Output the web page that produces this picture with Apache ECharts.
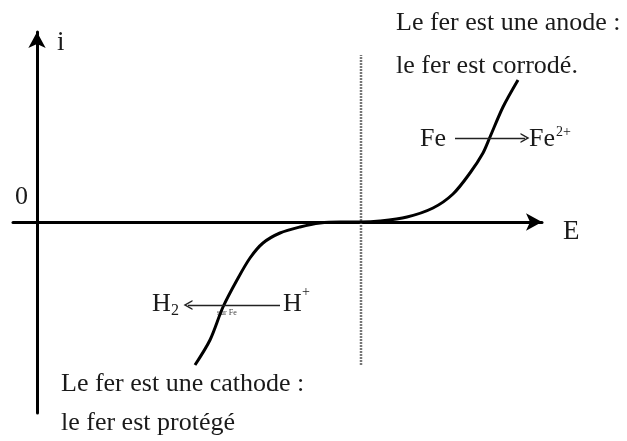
<!DOCTYPE html>
<html>
<head>
<meta charset="utf-8">
<script src="https://cdn.jsdelivr.net/npm/echarts@6/dist/echarts.min.js"></script>
<style>
  html, body { margin: 0; padding: 0; background: #fff; }
  #courbe { width: 627px; height: 441px; }
</style>
</head>
<body>
<div id="courbe"></div>
<script>
var potentiel = [158, 173, 186, 200, 213, 226, 243, 263, 283, 303, 324, 343, 370, 396, 416, 433, 446, 453, 466, 481];
var courant = [-143, -118, -85, -58, -36, -21, -11, -5, -1, 0, 0, 1, 5, 14, 28, 49, 69, 85, 115, 142];

// potentiel de corrosion (pointilles)
var Ecorr = 324;
var pointilles = [-143, 167];

// fleches des reactions
var flecheFe = [[418, 84], [488, 84]];
var flecheH = [[243, -83], [151, -83]];

var police = 'Liberation Serif';
var encre = '#1a1a1a';

var points = [];
for (var k = 0; k < potentiel.length; k++) {
    points.push([potentiel[k], courant[k]]);
}

// pointe ouverte, comme une fleche dessinee au trait
var chevron = 'path://M0,10 L5,0 L10,10 L8.4,10 L5,3.2 L1.6,10 Z';

var myChart = echarts.init(document.getElementById('courbe'));
var option = {
    backgroundColor: '#fff',
    animation: false,
    grid: {left: 13, right: 85, top: 32, bottom: 28},
    xAxis: {
        type: 'value',
        min: -24,
        max: 505,
        name: 'E',
        nameLocation: 'end',
        nameGap: 21,
        nameTextStyle: {fontFamily: police, fontSize: 27, color: encre, verticalAlign: 'top', lineHeight: 20},
        axisLine: {
            onZero: true,
            symbol: ['none', 'arrow'],
            symbolSize: [13, 16],
            lineStyle: {color: '#000', width: 3}
        },
        axisTick: {show: false},
        axisLabel: {show: false},
        splitLine: {show: false}
    },
    yAxis: {
        type: 'value',
        min: -191,
        max: 190,
        name: 'i',
        nameLocation: 'end',
        nameGap: -24,
        nameTextStyle: {fontFamily: police, fontSize: 27, color: encre, align: 'left', padding: [0, 0, 0, 20]},
        axisLine: {
            onZero: true,
            symbol: ['none', 'arrow'],
            symbolSize: [13, 16],
            lineStyle: {color: '#000', width: 3}
        },
        axisTick: {show: false},
        axisLabel: {show: false},
        splitLine: {show: false}
    },
    series: [
        {
            name: 'i(E)',
            type: 'line',
            data: points,
            smooth: 0.3,
            symbol: 'none',
            lineStyle: {color: '#000', width: 3},
            z: 3
        },
        {
            name: 'Ecorr',
            type: 'line',
            data: [[Ecorr, pointilles[0]], [Ecorr, pointilles[1]]],
            symbol: 'none',
            lineStyle: {color: '#777', width: 2.5, type: [2, 1]},
            z: 1,
            markLine: {
                silent: true,
                symbol: ['none', chevron],
                symbolSize: [10, 9],
                label: {show: false},
                lineStyle: {color: '#222', width: 1.3, type: 'solid'},
                data: [
                    [{coord: flecheFe[0]}, {coord: flecheFe[1]}],
                    [{coord: flecheH[0]}, {coord: flecheH[1]}]
                ]
            }
        }
    ],
    graphic: [
        {type: 'text', left: 396, top: 10, style: {text: 'Le fer est une anode :', font: '26px ' + police, fill: encre}},
        {type: 'text', left: 396, top: 53, style: {text: 'le fer est corrodé.', font: '26px ' + police, fill: encre}},
        {type: 'text', left: 61, top: 371, style: {text: 'Le fer est une cathode :', font: '26px ' + police, fill: encre}},
        {type: 'text', left: 61, top: 410, style: {text: 'le fer est protégé', font: '26px ' + police, fill: encre}},
        {type: 'text', left: 15, top: 184, style: {text: '0', font: '26px ' + police, fill: encre}},
        {type: 'text', left: 420, top: 126, style: {text: 'Fe', font: '26px ' + police, fill: encre}},
        {type: 'text', left: 529, top: 126, style: {text: 'Fe', font: '26px ' + police, fill: encre}},
        {type: 'text', left: 556, top: 125, style: {text: '2+', font: '14px ' + police, fill: encre}},
        {type: 'text', left: 152, top: 291, style: {text: 'H', font: '26px ' + police, fill: encre}},
        {type: 'text', left: 171, top: 303, style: {text: '2', font: '16px ' + police, fill: encre}},
        {type: 'text', left: 283, top: 291, style: {text: 'H', font: '26px ' + police, fill: encre}},
        {type: 'text', left: 302, top: 285, style: {text: '+', font: '14px ' + police, fill: encre}},
        {type: 'text', left: 217, top: 309, style: {text: 'sur Fe', font: '8px ' + police, fill: '#444'}}
    ]
};
myChart.setOption(option);
</script>
</body>
</html>
